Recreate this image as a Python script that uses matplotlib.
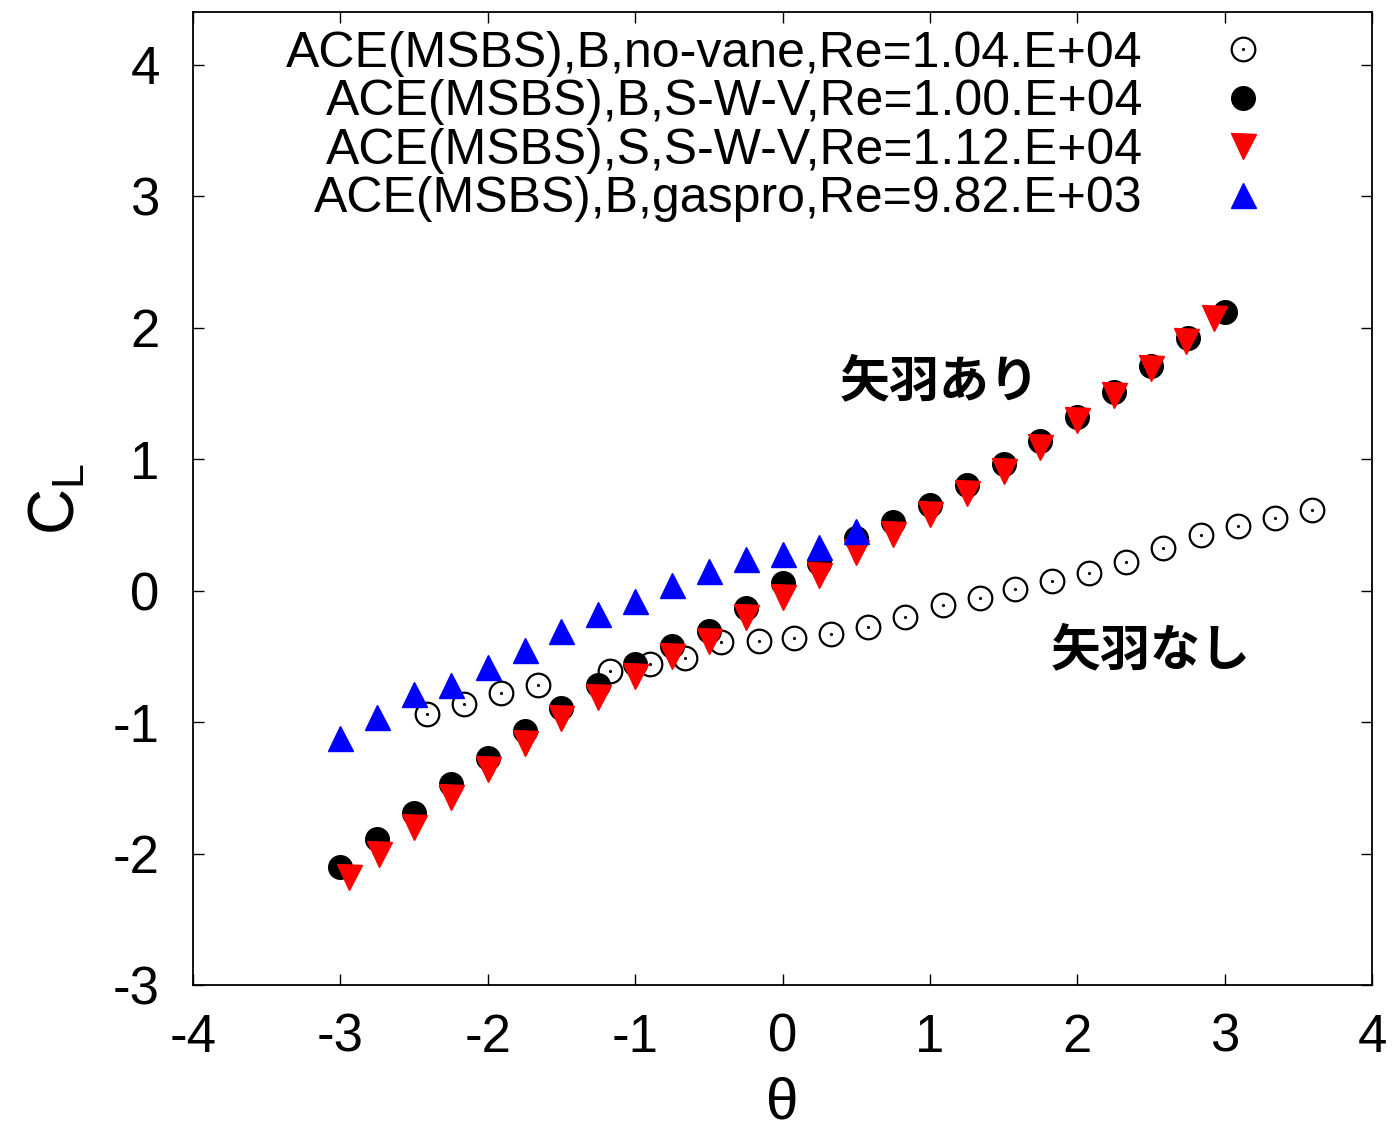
import numpy as np
import matplotlib
matplotlib.use("Agg")
import matplotlib.pyplot as plt
from matplotlib.legend_handler import HandlerTuple

plt.rcParams['font.family'] = ['Liberation Sans', 'Noto Sans CJK JP', 'DejaVu Sans']
plt.rcParams['mathtext.default'] = 'regular'
plt.rcParams['axes.unicode_minus'] = False

# B, no-vane
nv_x = [-2.41, -2.16, -1.91, -1.66, -1.17, -0.90, -0.66, -0.42, -0.16, 0.08, 0.33, 0.58,
        0.83, 1.09, 1.34, 1.58, 1.83, 2.08, 2.33, 2.58, 2.84, 3.09, 3.34, 3.59]
nv_y = [-0.94, -0.86, -0.78, -0.72, -0.61, -0.56, -0.51, -0.39, -0.38, -0.36, -0.33, -0.28,
        -0.20, -0.11, -0.06, 0.01, 0.07, 0.13, 0.22, 0.32, 0.42, 0.49, 0.55, 0.61]

# B, S-W-V
bs_x = [-3, -2.75, -2.5, -2.25, -2, -1.75, -1.5, -1.25, -1, -0.75, -0.5, -0.25, 0,
        0.25, 0.5, 0.75, 1, 1.25, 1.5, 1.75, 2, 2.25, 2.5, 2.75, 3]
bs_y = [-2.10, -1.89, -1.69, -1.47, -1.27, -1.07, -0.89, -0.72, -0.56, -0.42, -0.31, -0.13, 0.06,
        0.21, 0.40, 0.52, 0.65, 0.80, 0.96, 1.14, 1.32, 1.51, 1.71, 1.92, 2.12]

# S, S-W-V
ss_x = [-2.94, -2.74, -2.5, -2.25, -2, -1.75, -1.5, -1.25, -1, -0.75, -0.5, -0.25, 0,
        0.25, 0.5, 0.75, 1, 1.25, 1.5, 1.75, 2, 2.25, 2.5, 2.74, 2.93]
ss_y = [-2.18, -2.00, -1.80, -1.57, -1.36, -1.16, -0.97, -0.81, -0.65, -0.50, -0.38, -0.20, -0.05,
        0.12, 0.29, 0.43, 0.58, 0.74, 0.91, 1.09, 1.30, 1.49, 1.69, 1.90, 2.07]

# B, gaspro
gp_x = [-3, -2.75, -2.5, -2.25, -2, -1.75, -1.5, -1.25, -1, -0.75, -0.5, -0.25, 0, 0.25, 0.5]
gp_y = [-1.12, -0.96, -0.79, -0.72, -0.58, -0.45, -0.31, -0.18, -0.08, 0.04, 0.15, 0.24, 0.28, 0.33, 0.45]

labels = ['ACE(MSBS),B,no-vane,Re=1.04.E+04',
          'ACE(MSBS),B,S-W-V,Re=1.00.E+04',
          'ACE(MSBS),S,S-W-V,Re=1.12.E+04',
          'ACE(MSBS),B,gaspro,Re=9.82.E+03']

fig = plt.figure(figsize=(13.94, 11.34), dpi=100)
ax = fig.add_axes([0.1385, 0.1314, 0.8457, 0.858])

h_nv, = ax.plot(nv_x, nv_y, 'o', ms=17, mfc='none', mec='black', mew=1.6, ls='none')
h_dot, = ax.plot(nv_x, nv_y, '.', ms=2.5, color='black', ls='none')
h_bs, = ax.plot(bs_x, bs_y, 'o', ms=17, color='black', ls='none')
h_ss, = ax.plot(ss_x, ss_y, 'v', ms=18, color='red', ls='none')
h_gp, = ax.plot(gp_x, gp_y, '^', ms=18, color='blue', ls='none')

ax.set_xlim(-4, 4)
ax.set_ylim(-3, 4.4)
ax.set_xticks(range(-4, 5))
ax.set_yticks(range(-3, 5))
ax.tick_params(direction='in', length=8, width=1, top=True, right=True,
               labelsize=38, pad=20)
ax.tick_params(axis='y', pad=24)
for s in ax.spines.values():
    s.set_linewidth(1.3)

ax.set_xlabel('θ', fontsize=42, labelpad=10)
ax.set_ylabel('$C_L$', fontsize=46, labelpad=18)

ax.text(0.39, 1.59, '矢羽あり', fontsize=36, fontweight='bold', va='center',
        family=['Noto Sans CJK JP'])
ax.text(1.82, -0.46, '矢羽なし', fontsize=36, fontweight='bold', va='center',
        family=['Noto Sans CJK JP'])

ax.legend([(h_nv, h_dot), h_bs, h_ss, h_gp], labels,
          handler_map={tuple: HandlerTuple(ndivide=1)},
          loc='upper right', bbox_to_anchor=(0.9415, 1.022), frameon=False,
          markerfirst=False, fontsize=36, handlelength=0.8, handletextpad=1.6,
          labelspacing=0.05, borderpad=0.3)

fig.savefig('out.png', dpi=100)
